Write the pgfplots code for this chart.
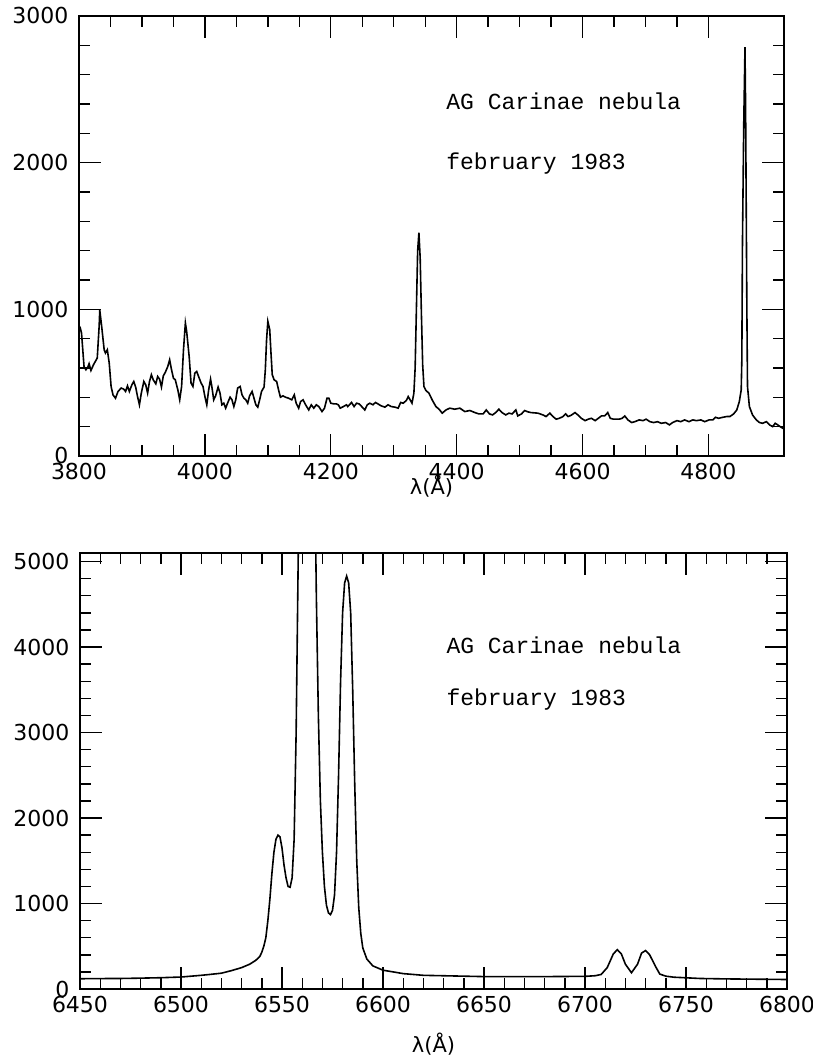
\documentclass[border=0pt]{standalone}
\usepackage{fontspec}
\setmainfont{DejaVu Sans}
\newfontfamily\mono{Liberation Mono}
\usepackage{pgfplots}
\pgfplotsset{compat=1.18}
\begin{document}
\begin{tikzpicture}
\pgfplotsset{
  spec/.style={
    scale only axis,
    anchor=south west,
    axis line style={line width=1.6pt},
    tick style={line width=1.4pt,black},
    tick align=inside,
    major tick length=22pt,
    minor tick length=11pt,
    ticklabel style={font=\fontsize{22}{26}\selectfont},
    /pgf/number format/.cd, 1000 sep={}, assume math mode=true,
    /pgfplots/.cd,
    yticklabel style={xshift=-7pt},
    xticklabel style={yshift=-4pt},
    cycle list={{black,line width=1.6pt}},
  },
  spline/.style={black,line width=1.6pt,no markers},
}
% ---------------- top panel ----------------
\begin{axis}[spec,
  at={(79pt,600pt)}, width=705pt, height=440pt,
  xmin=3800, xmax=4920, ymin=0, ymax=3000,
  xtick={3800,4000,...,4800}, ytick={0,1000,2000,3000},
  minor x tick num=3, minor y tick num=4,
  xlabel={λ(Å)},
  x label style={at={(axis description cs:0.5,0)},anchor=center,yshift=-30pt,font=\fontsize{21}{25}\selectfont},
]
\addplot[spline] coordinates {(3800,1000) (3833,1000)};
\addplot[spline] coordinates {
(3800,889)(3802,873)(3804,838)(3806,724)(3808,610)(3811,588)(3814,606)(3816,629)(3819,583)(3823,622)
(3826,645)(3829,668)(3832,884)(3833,995)(3836,884)(3840,724)(3842,702)(3845,724)(3848,634)(3851,474)
(3854,417)(3858,394)(3862,440)(3867,463)(3871,456)(3874,440)(3877,478)(3880,440)(3884,485)(3887,508)
(3890,470)(3893,405)(3896,349)(3899,429)(3903,508)(3906,485)(3909,429)(3912,508)(3915,554)(3918,519)
(3922,492)(3925,542)(3928,524)(3931,470)(3934,547)(3937,569)(3941,610)(3944,656)(3947,588)(3950,531)
(3953,519)(3957,451)(3960,383)(3963,474)(3966,724)(3969,907)(3971,850)(3975,679)(3978,497)(3981,474)
(3984,565)(3987,576)(3990,542)(3994,497)(3997,474)(4000,405)(4003,349)(4006,451)(4009,524)(4011,474)
(4014,383)(4017,410)(4021,470)(4024,429)(4027,349)(4030,360)(4033,326)(4036,360)(4040,401)(4043,383)
(4046,337)(4049,383)(4052,463)(4056,474)(4059,417)(4062,394)(4065,383)(4068,360)(4071,410)(4075,440)
(4078,394)(4081,349)(4084,333)(4087,383)(4090,440)(4094,470)(4096,588)(4098,793)(4100,918)(4103,861)
(4105,702)(4107,554)(4110,519)(4114,508)(4117,451)(4120,401)(4124,410)(4128,401)(4133,394)(4138,383)
(4142,417)(4145,360)(4149,326)(4152,371)(4156,383)(4160,349)(4165,314)(4169,349)(4173,326)(4177,349)
(4181,337)(4186,303)(4190,326)(4194,394)(4197,394)(4200,360)(4205,355)(4209,355)(4212,349)(4215,326)
(4220,337)(4225,349)(4227,337)(4233,365)(4237,337)(4241,360)(4245,355)(4250,333)(4254,314)(4258,349)
(4262,360)(4267,349)(4271,365)(4275,355)(4280,342)(4286,333)(4291,349)(4296,337)(4302,333)(4307,326)
(4311,365)(4315,360)(4320,378)(4323,405)(4326,383)(4329,360)(4332,428)(4334,600)(4336,1000)(4338,1400)
(4340,1522)(4342,1350)(4344,960)(4346,620)(4348,474)(4351,447)(4356,428)(4361,383)(4367,337)(4372,319)(4377,292)
(4383,314)(4389,326)(4397,319)(4405,326)(4413,303)(4421,310)(4429,296)(4435,287)(4442,287)(4447,314)
(4452,287)(4457,280)(4462,296)(4467,319)(4472,296)(4478,280)(4483,292)(4488,287)(4494,314)(4497,273)
(4503,287)(4508,310)(4513,301)(4518,296)(4529,292)(4537,280)(4542,269)(4548,292)(4553,269)(4558,251)
(4563,257)(4569,269)(4573,287)(4577,269)(4582,278)(4588,296)(4593,278)(4598,257)(4604,241)(4609,251)
(4614,257)(4620,241)(4625,257)(4630,273)(4635,273)(4640,296)(4644,257)(4649,251)(4658,251)(4663,257)
(4667,273)(4672,246)(4678,228)(4683,234)(4690,246)(4696,241)(4701,251)(4707,234)(4713,228)(4719,234)
(4725,223)(4732,228)(4738,212)(4743,228)(4750,241)(4756,234)(4762,246)(4769,234)(4775,246)(4781,241)
(4788,246)(4794,234)(4801,246)(4807,246)(4811,264)(4816,257)(4823,264)(4829,269)(4834,269)(4840,287)
(4845,314)(4849,371)(4852,451)(4853,656)(4854,1454)(4856,2251)(4858,2787)(4859,2365)(4860,1681)(4861,998)
(4862,474)(4865,337)(4870,280)(4876,246)(4881,228)(4886,223)(4892,234)(4897,212)(4902,200)(4906,223)
(4910,212)(4914,200)(4918,189)(4920,195)
};
\node[anchor=base west,font=\mono\fontsize{23}{27}\selectfont] at (axis cs:4378,2365) {AG Carinae nebula};
\node[anchor=base west,font=\mono\fontsize{23}{27}\selectfont] at (axis cs:4378,1955) {february 1983};
\end{axis}
% ---------------- bottom panel ----------------
\begin{axis}[spec,
  at={(80pt,67pt)}, width=707pt, height=436pt,
  xmin=6450, xmax=6800, ymin=0, ymax=5100,
  xtick={6450,6500,...,6800}, ytick={0,1000,...,5000},
  minor x tick num=4, minor y tick num=4,
  xlabel={λ(Å)},
  x label style={at={(axis description cs:0.5,0)},anchor=center,yshift=-55pt,font=\fontsize{21}{25}\selectfont},
]
\addplot[spline] coordinates {
(6450,120)(6460,122)(6470,123)(6480,127)(6490,132)(6500,140)(6505,150)(6510,160)(6515,172)(6520,185)
(6525,215)(6530,250)(6534,290)(6537,335)(6539,380)(6540,430)(6541,500)(6542,600)(6543,800)(6544,1050)
(6545,1350)(6546,1600)(6547,1750)(6548,1800)(6549,1780)(6550,1650)(6551,1450)(6552,1300)(6553,1200)(6554,1190)
(6555,1300)(6556,1750)(6557,3000)(6558,5000)(6559,7500)(6561,10000)(6563,11000)(6565,9000)(6566,6500)(6567,4600)
(6568,3200)(6569,2200)(6570,1600)(6571,1200)(6572,980)(6573,890)(6574,870)(6575,920)(6576,1100)(6577,1600)(6578,2500)
(6579,3600)(6580,4400)(6581,4750)(6582,4830)(6583,4750)(6584,4400)(6585,3500)(6586,2400)(6587,1500)(6588,950)
(6589,650)(6590,480)(6592,350)(6595,270)(6600,220)(6610,180)(6620,160)(6650,145)(6680,145)(6700,148)
(6705,155)(6708,170)(6711,250)(6714,410)(6716,460)(6718,410)(6720,290)(6723,190)(6726,290)(6728,420)
(6730,450)(6732,400)(6735,260)(6737,175)(6740,150)(6744,138)(6757,123)(6770,118)(6800,111)
};
\node[anchor=base west,font=\mono\fontsize{23}{27}\selectfont] at (axis cs:6629.7,3927) {AG Carinae nebula};
\node[anchor=base west,font=\mono\fontsize{23}{27}\selectfont] at (axis cs:6629.7,3319) {february 1983};
\end{axis}
\pgfresetboundingbox
\path (0,0) rectangle (812pt,1056pt);
\end{tikzpicture}
\end{document}
